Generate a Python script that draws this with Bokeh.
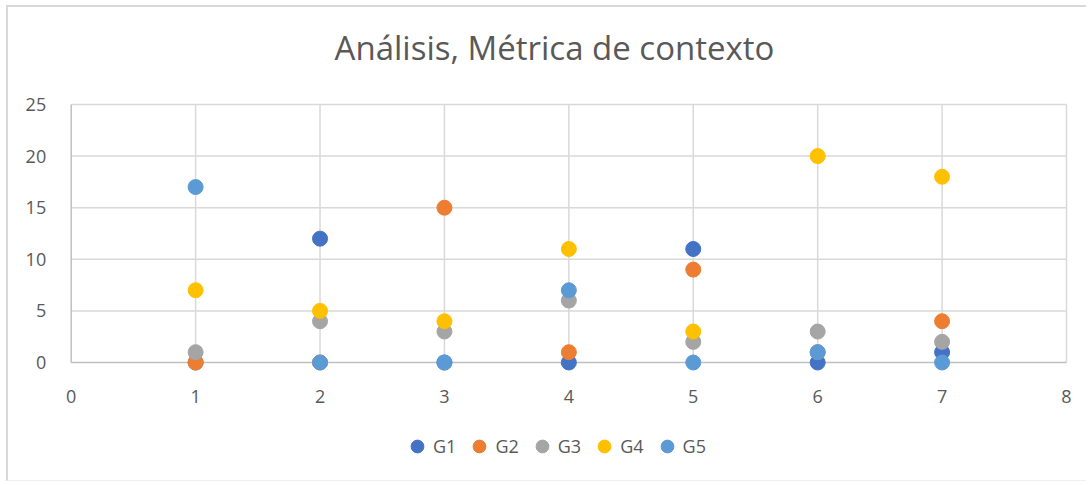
from bokeh.plotting import figure
from bokeh.models import Legend, LegendItem, FixedTicker, Range1d, Label
from bokeh.embed import file_html
from bokeh.resources import INLINE

# Data
x_vals = [1, 2, 3, 4, 5, 6, 7]
g1 = [0, 12, 0, 0, 11, 0, 1]
g2 = [0, 0, 15, 1, 9, 1, 4]
g3 = [1, 4, 3, 6, 2, 3, 2]
g4 = [7, 5, 4, 11, 3, 20, 18]
g5 = [17, 0, 0, 7, 0, 1, 0]
series_names = ["G1", "G2", "G3", "G4", "G5"]
series_values = [g1, g2, g3, g4, g5]
colors = ["#4472C4", "#ED7D31", "#A5A5A5", "#FFC000", "#5B9BD5"]
x_ticks = [0, 1, 2, 3, 4, 5, 6, 7, 8]
y_ticks = [0, 5, 10, 15, 20, 25]
title_text = "Análisis, Métrica de contexto"

FONT = "Open Sans"
TXT = "#595959"
GRID = "#D9D9D9"
AXIS = "#BFBFBF"

# layout (pixels): the frame covers the whole canvas, axes sit at x=0 / y=0
W, H = 1080, 476
X0_PX, XMAX_PX = 62.7, 1058   # pixel columns of x = 0 and x = x_max
TOP_PX, ZERO_PX = 97, 355     # pixel rows of y_max and y = 0

x_min, x_max = x_ticks[0], x_ticks[-1]
y_min, y_max = y_ticks[0], y_ticks[-1]
ppx = (XMAX_PX - X0_PX) / (x_max - x_min)
ppy = (ZERO_PX - TOP_PX) / (y_max - y_min)
x_lo = x_min - X0_PX / ppx
x_hi = x_max + (W - XMAX_PX) / ppx
y_lo = y_min - (H - ZERO_PX) / ppy
y_hi = y_max + TOP_PX / ppy

p = figure(width=W, height=H, output_backend="svg", toolbar_location=None,
           x_range=Range1d(x_lo, x_hi), y_range=Range1d(y_lo, y_hi),
           min_border_left=0, min_border_right=0, min_border_top=0, min_border_bottom=0)
p.title.visible = False
p.outline_line_color = None
p.background_fill_color = "white"
p.border_fill_color = "white"

for ax, ticks in ((p.xaxis[0], x_ticks), (p.yaxis[0], y_ticks)):
    ax.ticker = FixedTicker(ticks=ticks)
    ax.fixed_location = 0
    ax.major_tick_line_color = None
    ax.minor_tick_line_color = None
    ax.axis_line_color = None
    ax.major_label_text_font = FONT
    ax.major_label_text_font_size = "18px"
    ax.major_label_text_color = TXT
p.xaxis[0].major_label_standoff = 21
p.yaxis[0].major_label_standoff = 19

# grid lines, stopping at the axes
p.xgrid[0].visible = False
p.ygrid[0].visible = False
vx = x_ticks[1:]
p.segment(x0=vx, y0=[y_min] * len(vx), x1=vx, y1=[y_max] * len(vx),
          line_color=GRID, line_width=1.5)
hy = y_ticks[1:]
p.segment(x0=[x_min] * len(hy), y0=hy, x1=[x_max] * len(hy), y1=hy,
          line_color=GRID, line_width=1.5)
# axis lines (beneath the markers)
p.segment(x0=[x_min, x_min], y0=[y_min, y_min], x1=[x_min, x_max], y1=[y_max, y_min],
          line_color=AXIS, line_width=1.5)

items = []
for name, vals, col in zip(series_names, series_values, colors):
    r = p.scatter(x_vals, vals, size=15, fill_color=col, line_color=col, marker="circle")
    items.append(LegendItem(label=name, renderers=[r]))

legend = Legend(items=items, orientation="horizontal", location=(393, 21),
                glyph_width=32, glyph_height=32, label_standoff=-4, spacing=7,
                label_text_font=FONT, label_text_font_size="18px", label_text_color=TXT,
                border_line_color=None, background_fill_alpha=0, padding=0, margin=0)
p.add_layout(legend)

title = Label(x=546, y=H - 40, x_units="screen", y_units="screen", text=title_text,
              text_align="center", text_baseline="alphabetic",
              text_font=FONT, text_font_size="33px", text_color=TXT)
p.add_layout(title)

p.styles = {"border-top": "2px solid #D9D9D9", "border-left": "2px solid #D9D9D9",
            "border-bottom": "1px solid #F0F0F0",
            "margin-top": "5px", "margin-left": "6px"}

open("out.html", "w").write(file_html(p, INLINE))
